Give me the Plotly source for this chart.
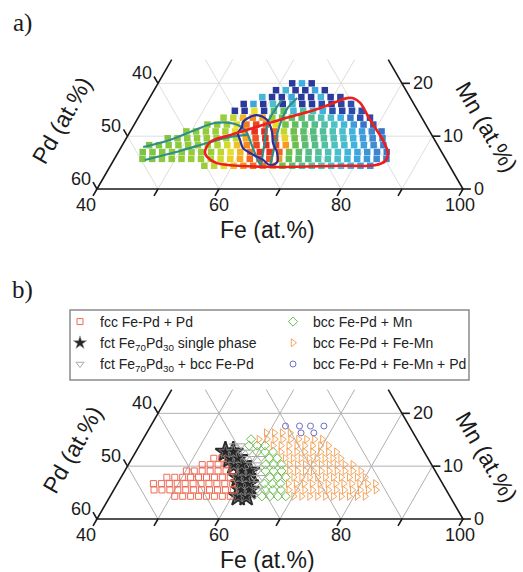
import math
import plotly.graph_objects as go

# ---------------- data ----------------
# Panel a: measured library spots, one list per row of roughly constant Mn (at.%)
A_ROW_MN = [4.4, 5.7, 7.0, 8.3, 9.6, 10.9, 12.2, 13.5, 14.8, 16.1, 17.4, 18.7, 20.0]
A_ROW_FE = [
    [55.4, 57.0, 58.6, 60.2, 61.8, 63.4, 65.0, 66.6, 68.2, 69.8, 71.4, 73.0, 74.6, 76.2, 77.8, 79.4, 81.0, 82.6],
    [44.6, 46.2, 47.8, 49.4, 51.0, 52.6, 54.2, 55.8, 57.4, 59.0, 60.6, 62.2, 63.8, 65.4, 67.0, 68.6, 70.2, 71.8, 73.4, 75.0, 76.6, 78.2, 79.8, 81.4, 83.0, 84.6],
    [44.0, 45.6, 47.2, 48.8, 50.4, 52.0, 53.6, 55.2, 56.8, 58.4, 60.0, 61.6, 63.2, 64.8, 66.4, 68.0, 69.6, 71.2, 72.8, 74.4, 76.0, 77.6, 79.2, 80.8, 82.4, 84.0],
    [44.4, 46.0, 47.6, 49.2, 50.8, 52.4, 54.0, 55.6, 57.2, 58.8, 60.4, 62.0, 63.6, 65.2, 66.8, 68.4, 70.0, 71.6, 73.2, 74.8, 76.4, 78.0, 79.6, 81.2, 82.8],
    [46.8, 48.4, 50.0, 51.6, 53.2, 54.8, 56.4, 58.0, 59.6, 61.2, 62.8, 64.4, 66.0, 67.6, 69.2, 70.8, 72.4, 74.0, 75.6, 77.2, 78.8, 80.4, 82.0],
    [49.2, 50.8, 52.4, 54.0, 55.6, 57.2, 58.8, 60.4, 62.0, 63.6, 65.2, 66.8, 68.4, 70.0, 71.6, 73.2, 74.8, 76.4, 78.0, 79.6, 81.2],
    [52.0, 53.6, 55.2, 56.8, 58.4, 60.0, 61.6, 63.2, 64.8, 66.4, 68.0, 69.6, 71.2, 72.8, 74.4, 76.0, 77.6, 79.2],
    [54.0, 55.6, 57.2, 58.8, 60.4, 62.0, 63.6, 65.2, 66.8, 68.4, 70.0, 71.6, 73.2, 74.8, 76.4, 78.0],
    [55.2, 56.8, 58.4, 60.0, 61.6, 63.2, 64.8, 66.4, 68.0, 69.6, 71.2, 72.8, 74.4, 76.0],
    [56.0, 57.6, 59.2, 60.8, 62.4, 64.0, 65.6, 67.2, 68.8, 70.4, 72.0, 73.6],
    [58.4, 60.0, 61.6, 63.2, 64.8, 66.4, 68.0, 69.6, 71.2],
    [60.0, 61.6, 63.2, 64.8, 66.4, 68.0],
    [62.0, 63.6, 65.2],
]
# colour value of each spot (0 = dark blue ... 100 = dark red)
A_ROW_VAL = [
    [62, 66, 70, 74, 80, 85, 84, 78, 55, 50, 46, 44, 42, 38, 35, 32, 28, 25],
    [58, 58, 60, 60, 61, 62, 62, 64, 68, 72, 78, 86, 90, 88, 80, 54, 50, 47, 44, 42, 38, 34, 30, 27, 24, 22],
    [57, 58, 59, 60, 60, 61, 62, 62, 66, 70, 76, 85, 92, 92, 86, 56, 51, 47, 45, 42, 38, 34, 30, 26, 23, 21],
    [57, 58, 59, 60, 61, 61, 62, 64, 68, 74, 82, 90, 94, 90, 80, 54, 50, 47, 44, 41, 37, 33, 29, 25, 22],
    [58, 59, 60, 60, 61, 62, 63, 66, 78, 88, 94, 90, 72, 56, 51, 48, 45, 42, 38, 33, 28, 24, 22],
    [60, 60, 61, 62, 64, 70, 80, 92, 94, 86, 66, 55, 51, 48, 45, 42, 38, 33, 28, 24, 20],
    [60, 61, 63, 70, 84, 90, 86, 70, 56, 52, 50, 47, 44, 40, 35, 28, 20, 14],
    [62, 66, 76, 82, 78, 62, 55, 52, 50, 46, 42, 38, 32, 20, 12, 10],
    [5, 5, 70, 5, 48, 52, 36, 45, 40, 32, 12, 8, 10, 12],
    [5, 30, 5, 40, 5, 35, 5, 5, 10, 5, 8, 12],
    [35, 5, 5, 30, 5, 5, 35, 5, 8],
    [5, 35, 5, 5, 30, 5],
    [5, 32, 5],
]

# Panel a region outlines (Fe, Mn in at.%)
RED_FE = [54.2, 54.1, 56.7, 63.5, 68.9, 72.4, 73.4, 75.0, 78.2, 82.2, 84.3, 84.6, 83.3, 77.6, 65.8, 57.2, 55.0, 54.2]
RED_MN = [7.0, 8.9, 10.2, 13.1, 15.3, 17.2, 17.2, 16.3, 13.1, 9.3, 6.8, 5.3, 4.5, 4.4, 4.2, 4.9, 6.1, 7.0]
BLUE_FE = [57.6, 58.0, 59.2, 61.3, 63.3, 64.5, 66.0, 67.0, 66.1, 64.5, 63.2, 61.3, 60.0, 58.8, 57.8, 57.9, 57.6]
BLUE_MN = [12.7, 13.4, 14.0, 13.1, 10.8, 8.7, 7.0, 5.1, 4.5, 5.5, 6.1, 7.0, 7.8, 9.3, 10.6, 11.7, 12.7]
TEAL1_FE = [43.6, 47.3, 50.5, 53.1, 56.5, 58.7, 61.2, 63.6, 64.7]
TEAL1_MN = [7.95, 9.28, 11.17, 12.5, 12.31, 11.17, 8.33, 5.49, 4.36]
TEAL2_FE = [45.1, 50.0, 53.7, 56.9, 59.6]
TEAL2_MN = [5.49, 7.2, 8.71, 9.85, 10.23]
TEAL3_FE = [64.7, 62.9, 61.7, 61.7, 61.9]
TEAL3_MN = [4.36, 9.28, 12.69, 15.34, 16.86]
TEAL4_FE = [66.2, 65.0, 63.9, 63.6, 64.2]
TEAL4_MN = [4.36, 8.33, 12.12, 15.34, 17.23]

# Panel b: spots with phase code per spot
# R fcc Fe-Pd + Pd | K fct single | G fct + bcc | D bcc + Mn | O bcc + Fe-Mn | P bcc + Fe-Mn + Pd
B_ROW_MN = [4.3, 5.5, 6.7, 7.9, 9.1, 10.3, 11.5, 12.7, 13.9, 15.1, 16.3, 17.6]
B_ROW_FE = [
    [50.6, 51.9, 53.2, 54.5, 55.8, 57.1, 58.4, 59.7, 61.0, 62.3, 63.6, 64.9, 66.2, 67.5, 68.8, 70.1, 71.4, 72.7, 74.0, 75.3, 76.6, 77.9, 79.2, 80.5, 81.8],
    [46.6, 47.9, 49.2, 50.5, 51.8, 53.1, 54.4, 55.7, 57.0, 58.3, 59.6, 60.9, 62.2, 63.5, 64.8, 66.1, 67.4, 68.7, 70.0, 71.3, 72.6, 73.9, 75.2, 76.5, 77.8, 79.1, 80.4, 81.7, 83.0],
    [45.9, 47.2, 48.5, 49.8, 51.1, 52.4, 53.7, 55.0, 56.3, 57.6, 58.9, 60.2, 61.5, 62.8, 64.1, 65.4, 66.7, 68.0, 69.3, 70.6, 71.9, 73.2, 74.5, 75.8, 77.1, 78.4, 79.7, 81.0, 82.3],
    [47.5, 48.8, 50.1, 51.4, 52.7, 54.0, 55.3, 56.6, 57.9, 59.2, 60.5, 61.8, 63.1, 64.4, 65.7, 67.0, 68.3, 69.6, 70.9, 72.2, 73.5, 74.8, 76.1, 77.4, 78.7, 80.0],
    [50.1, 51.4, 52.7, 54.0, 55.3, 56.6, 57.9, 59.2, 60.5, 61.8, 63.1, 64.4, 65.7, 67.0, 68.3, 69.6, 70.9, 72.2, 73.5, 74.8, 76.1, 77.4, 78.7],
    [52.1, 53.4, 54.7, 56.0, 57.3, 58.6, 59.9, 61.2, 62.5, 63.8, 65.1, 66.4, 67.7, 69.0, 70.3, 71.6, 72.9, 74.2, 75.5, 76.8],
    [53.4, 54.7, 56.0, 57.3, 58.6, 59.9, 61.2, 62.5, 63.8, 65.1, 66.4, 67.7, 69.0, 70.3, 71.6, 72.9, 74.2],
    [54.7, 56.0, 57.3, 58.6, 59.9, 61.2, 62.5, 63.8, 65.1, 66.4, 67.7, 69.0, 70.3, 71.6, 72.9],
    [55.4, 56.7, 58.0, 59.3, 60.6, 61.9, 63.2, 64.5, 65.8, 67.1, 68.4, 69.7, 71.0],
    [57.7, 59.0, 60.3, 61.6, 62.9, 64.2, 65.5, 66.8, 68.1, 69.4],
    [59.6, 60.9, 62.2, 63.5, 65.3, 67.4],
    [62.1, 64.4, 66.2, 68.4],
]
B_ROW_PHASE = [
    "RRRRRRRRKKGDDDDOOOOOOOOOO",
    "RRRRRRRRRRRKKGDDDOOOOOOOOOOOO",
    "RRRRRRRRRRRKKGDDDOOOOOOOOOOOO",
    "RRRRRRRRRKKGGDDDOOOOOOOOOO",
    "RRRRRRRKKGDDDOOOOOOOOOO",
    "RRRRKKGGDDDOOOOOOOOO",
    "RRKKGGGDDOOOOOOOO",
    "KKGGDDDOOOOOOOO",
    "GGDDDOOOOOOOO",
    "DOOOOOOOOO",
    "OOOOPP",
    "PPPP",
]
PHASE_NAMES = {
    "R": "fcc Fe-Pd + Pd",
    "K": "fct Fe<sub>70</sub>Pd<sub>30</sub> single phase",
    "G": "fct Fe<sub>70</sub>Pd<sub>30</sub> + bcc Fe-Pd",
    "D": "bcc Fe-Pd + Mn",
    "O": "bcc Fe-Pd + Fe-Mn",
    "P": "bcc Fe-Pd + Fe-Mn + Pd",
}

# axis ticks
FE_TICKS = [40, 50, 60, 70, 80, 90, 100]
FE_TICK_LABELS = ["40", "", "60", "", "80", "", "100"]
PD_TICKS = [40, 50, 60]
MN_TICKS = [0, 10, 20]

# ---------------- styling ----------------
FONT = "Liberation Sans, Arial, sans-serif"
SERIF = "Liberation Serif, Times New Roman, serif"
MN_TOP = 24.5
S3 = math.sqrt(3) / 2
W, H = 523, 572

CSCALE = [
    [0.00, "#2a2a8a"], [0.12, "#2c4fb0"], [0.22, "#3a7fd0"], [0.32, "#3fb0e0"],
    [0.40, "#4cc2c8"], [0.48, "#55bb80"], [0.55, "#6cbf4a"], [0.62, "#9acd3a"],
    [0.70, "#e6de2a"], [0.78, "#f7a823"], [0.85, "#f3701f"], [0.92, "#e8321e"],
    [1.00, "#c81818"],
]

PHASE_STYLE = {
    "R": dict(symbol="square-open", color="#ef6a55", size=6, rank=1),
    "G": dict(symbol="triangle-down-open", color="#aaaaaa", size=7, rank=5),
    "D": dict(symbol="diamond-open", color="#6cbc4c", size=7, rank=2),
    "O": dict(symbol="triangle-right-open", color="#f5a55c", size=7, rank=4),
    "P": dict(symbol="circle-open", color="#6f6fc4", size=6, rank=6),
    "K": dict(symbol="star", color="#262626", size=10, rank=3),
}


def tx(fe, mn):
    return fe + mn / 2.0


def ty(mn):
    return mn * S3


fig = go.Figure()
annotations = []


def add_frame(xa, ya, grid_color, edge_color):
    gx, gy = [], []
    for k in FE_TICKS[1:-1]:
        m_end = min(MN_TOP, 100 - k)
        gx += [tx(k, 0), tx(k, m_end), None]
        gy += [ty(0), ty(m_end), None]
    for p in range(10, 60, 10):
        m_end = min(MN_TOP, 60 - p)
        gx += [tx(100 - p, 0), tx(100 - p - m_end, m_end), None]
        gy += [ty(0), ty(m_end), None]
    for m in MN_TICKS[1:]:
        gx += [tx(40, m), tx(100 - m, m), None]
        gy += [ty(m), ty(m), None]
    fig.add_trace(go.Scatter(x=gx, y=gy, mode="lines", line=dict(color=grid_color, width=1),
                             hoverinfo="skip", showlegend=False, xaxis=xa, yaxis=ya))
    ex = [tx(40, MN_TOP), tx(40, 0), tx(100, 0), tx(100 - MN_TOP, MN_TOP)]
    ey = [ty(MN_TOP), ty(0), ty(0), ty(MN_TOP)]
    tl = 1.3
    for k in FE_TICKS:
        ex += [None, tx(k, 0), tx(k, -tl)]
        ey += [None, ty(0), ty(-tl)]
    for p in PD_TICKS:
        m = 60 - p
        ex += [None, tx(40, m), tx(40 - tl, m + tl)]
        ey += [None, ty(m), ty(m + tl)]
    for m in MN_TICKS:
        ex += [None, tx(100 - m, m), tx(100 - m + tl, m)]
        ey += [None, ty(m), ty(m)]
    fig.add_trace(go.Scatter(x=ex, y=ey, mode="lines", line=dict(color=edge_color, width=1.6),
                             hoverinfo="skip", showlegend=False, xaxis=xa, yaxis=ya))


def add_labels(xr, yr, pd_title_x, fe_title_shift):
    tf = dict(family=FONT, size=18, color="#1a1a1a")
    for k, lab in zip(FE_TICKS, FE_TICK_LABELS):
        if lab:
            annotations.append(dict(x=tx(k, 0), y=ty(0), xref=xr, yref=yr, text=lab, showarrow=False,
                                    font=tf, xanchor="center", yanchor="middle", yshift=-16,
                                    xshift=-11 if k == 40 else (-3 if k == 100 else 0)))
    for p in PD_TICKS:
        m = 60 - p
        annotations.append(dict(x=tx(40, m), y=ty(m), xref=xr, yref=yr, text=str(p), showarrow=False,
                                font=tf, xanchor="center", yanchor="middle", xshift=-16, yshift=10))
    for m in MN_TICKS:
        annotations.append(dict(x=tx(100 - m, m), y=ty(m), xref=xr, yref=yr, text=str(m), showarrow=False,
                                font=tf, xanchor="left", yanchor="middle", xshift=9))
    big = dict(family=FONT, size=23, color="#1a1a1a")
    annotations.append(dict(x=68.0, y=0, xref=xr, yref=yr, text="Fe (at.%)", showarrow=False, font=big,
                            xanchor="center", yanchor="middle", yshift=fe_title_shift))
    annotations.append(dict(x=pd_title_x, y=11.3, xref=xr, yref=yr, text="Pd (at.%)", showarrow=False,
                            font=big, textangle=-60, xanchor="center", yanchor="middle"))
    annotations.append(dict(x=103.9, y=10.2, xref=xr, yref=yr, text="Mn (at.%)", showarrow=False,
                            font=big, textangle=60, xanchor="center", yanchor="middle"))


# ---------- panel a ----------
add_frame("x", "y", "#dedede", "#1a1a1a")
ax_, ay_, av_ = [], [], []
for mn, fes, vals in zip(A_ROW_MN, A_ROW_FE, A_ROW_VAL):
    for fe, v in zip(fes, vals):
        ax_.append(tx(fe, mn))
        ay_.append(ty(mn))
        av_.append(v)
fig.add_trace(go.Scatter(x=ax_, y=ay_, mode="markers",
                         marker=dict(symbol="square", size=6.5, color=av_, colorscale=CSCALE,
                                     cmin=0, cmax=100, line=dict(width=0)),
                         showlegend=False, hoverinfo="skip", xaxis="x", yaxis="y"))
for fes, mns, col, wd in [
    (TEAL1_FE, TEAL1_MN, "#2f8f86", 2.2), (TEAL2_FE, TEAL2_MN, "#2f8f86", 2.2),
    (TEAL3_FE, TEAL3_MN, "#2f8f86", 2.2), (TEAL4_FE, TEAL4_MN, "#2f8f86", 2.2),
    (BLUE_FE, BLUE_MN, "#2b2f9a", 2.2), (RED_FE, RED_MN, "#ec1e1e", 2.6),
]:
    fig.add_trace(go.Scatter(x=[tx(f, m) for f, m in zip(fes, mns)], y=[ty(m) for m in mns],
                             mode="lines", line=dict(color=col, width=wd, shape="spline", smoothing=0.9),
                             showlegend=False, hoverinfo="skip", xaxis="x", yaxis="y"))
add_labels("x", "y", 34.3, -41)

# ---------- panel b ----------
add_frame("x2", "y2", "#b0b0b0", "#1a1a1a")
groups = {k: ([], []) for k in PHASE_NAMES}
for mn, fes, codes in zip(B_ROW_MN, B_ROW_FE, B_ROW_PHASE):
    for fe, c in zip(fes, codes):
        groups[c][0].append(tx(fe, mn))
        groups[c][1].append(ty(mn))
# heavy underlay so the fct single-phase spots merge into one dark band
fig.add_trace(go.Scatter(x=groups["K"][0], y=groups["K"][1], mode="markers",
                         marker=dict(symbol="star", size=15, color="#2a2a2a",
                                     line=dict(color="#2a2a2a", width=2)),
                         showlegend=False, hoverinfo="skip", xaxis="x2", yaxis="y2"))
for code in ["R", "G", "D", "O", "P", "K"]:
    st = PHASE_STYLE[code]
    if code == "K":
        mk = dict(symbol=st["symbol"], size=st["size"], color=st["color"],
                  line=dict(color="#9a9a9a", width=0.6))
    else:
        mk = dict(symbol=st["symbol"], size=st["size"], color=st["color"],
                  line=dict(color=st["color"], width=1))
    fig.add_trace(go.Scatter(
        x=groups[code][0], y=groups[code][1], mode="markers", name=PHASE_NAMES[code],
        legendrank=st["rank"], marker=mk, hoverinfo="skip", xaxis="x2", yaxis="y2"))
add_labels("x2", "y2", 36.0, -41)

# panel letters
annotations.append(dict(x=22 / W, y=1 - 23 / H, xref="paper", yref="paper", text="a)", showarrow=False,
                        font=dict(family=SERIF, size=25, color="#1a1a1a"), xanchor="center", yanchor="middle"))
annotations.append(dict(x=22 / W, y=1 - 290 / H, xref="paper", yref="paper", text="b)", showarrow=False,
                        font=dict(family=SERIF, size=25, color="#1a1a1a"), xanchor="center", yanchor="middle"))

XR = [24.1, 24.1 + W / 6.1]
split = 1 - 260 / H
fig.update_layout(
    width=W, height=H, margin=dict(l=0, r=0, t=0, b=0),
    paper_bgcolor="white", plot_bgcolor="rgba(0,0,0,0)",
    xaxis=dict(domain=[0, 1], range=XR, visible=False, fixedrange=True, anchor="y"),
    yaxis=dict(domain=[split, 1], range=[-71 / 6.1, 189 / 6.1], visible=False, fixedrange=True, anchor="x"),
    xaxis2=dict(domain=[0, 1], range=XR, visible=False, fixedrange=True, anchor="y2"),
    yaxis2=dict(domain=[0, split], range=[-53 / 6.1, 259 / 6.1], visible=False, fixedrange=True, anchor="x2"),
    showlegend=True,
    legend=dict(orientation="h", x=60 / W, xanchor="left", y=1 - 306 / H, yanchor="top",
                entrywidth=168, entrywidthmode="pixels", traceorder="normal",
                font=dict(family=FONT, size=14, color="#222"), bgcolor="rgba(0,0,0,0)", borderwidth=0),
    shapes=[dict(type="rect", xref="paper", yref="paper", x0=70 / W, x1=469 / W,
                 y0=1 - 380 / H, y1=1 - 310 / H, line=dict(color="#8a8a8a", width=1.5))],
    annotations=annotations,
)

fig.write_html("out.html", config={"displayModeBar": False},
               post_script="document.body.style.margin='0';document.body.style.overflow='hidden';")
